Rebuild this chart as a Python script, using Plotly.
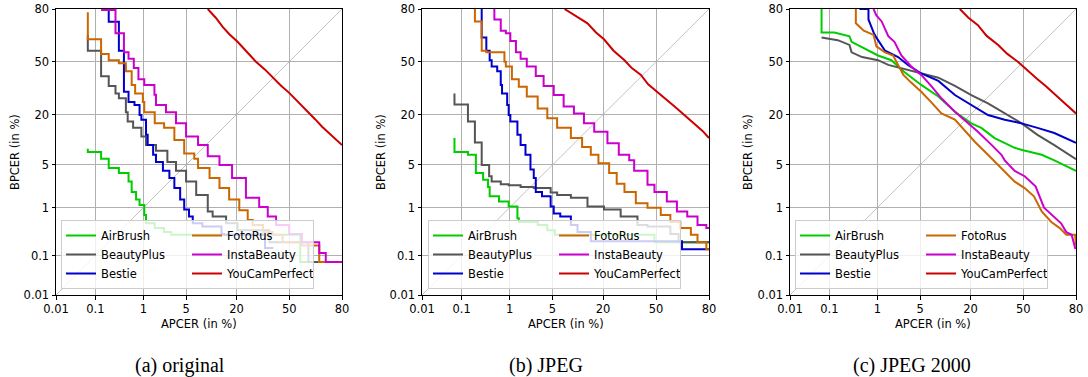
from statistics import NormalDist
import plotly.graph_objects as go

ND = NormalDist()


def probit(pcts):
    return [ND.inv_cdf(v / 100.0) for v in pcts]


# ---------------- data (all values in %) ----------------
TICK_VALUES = [0.01, 0.1, 1, 5, 20, 50, 80]
TICK_LABELS = ["0.01", "0.1", "1", "5", "20", "50", "80"]
AXIS_RANGE = [0.01, 80]
DIAGONAL = [0.01, 80]

SYSTEMS = ["AirBrush", "BeautyPlus", "Bestie", "FotoRus", "InstaBeauty", "YouCamPerfect"]
COLORS = ["#00cc00", "#555555", "#0000cc", "#cc6600", "#cc00cc", "#cc0000"]
CAPTIONS = ["(a) original", "(b) JPEG", "(c) JPEG 2000"]

# ---- (a) original ----
A_AIRBRUSH_APCER = [0.066, 0.066, 0.135, 0.135, 0.2, 0.2, 0.33, 0.52, 0.6, 0.73, 0.85, 1.04, 1.12, 1.6, 2.3, 3.0, 3.2, 57, 57, 62]
A_AIRBRUSH_BPCER = [8.3, 7.5, 7.5, 6.1, 6.1, 5.5, 4.5, 3.8, 2.8, 1.9, 1.4, 1.12, 0.73, 0.5, 0.4, 0.33, 0.29, 0.29, 0.07, 0.07]
A_BEAUTYPLUS_APCER = [0.066, 0.066, 0.135, 0.135, 0.2, 0.28, 0.33, 0.46, 0.5, 0.64, 0.92, 1.12, 1.68, 2.6, 3.55, 5.0, 6.9, 9.7, 11.1, 15.7, 20.5, 26, 37.6, 39.6, 54, 62, 62, 68]
A_BEAUTYPLUS_BPCER = [66.6, 57, 57, 41.7, 40.8, 35, 30.7, 28, 21, 17, 14.6, 11.7, 9.2, 7.8, 5.5, 4.1, 2.8, 1.68, 0.85, 0.68, 0.5, 0.36, 0.36, 0.2, 0.2, 0.2, 0.07, 0.07]
A_BESTIE_APCER = [0.17, 0.2, 0.2, 0.33, 0.33, 0.42, 0.42, 0.52, 0.68, 0.85, 0.92, 1.12, 1.2, 1.5, 1.68, 2.2, 2.8, 3.35, 4.1, 4.7, 5.5, 6.2, 8.3, 10.2, 14, 15, 18, 35, 35, 40]
A_BESTIE_BPCER = [80, 80, 73.8, 73.8, 57, 57, 41.7, 31.6, 26, 24.5, 19.8, 17.8, 12.2, 9.2, 6.9, 5.5, 4.1, 3.2, 2.2, 1.4, 0.92, 0.68, 0.5, 0.43, 0.43, 0.3, 0.29, 0.29, 0.15, 0.15]
A_FOTORUS_APCER = [0.066, 0.066, 0.135, 0.135, 0.2, 0.2, 0.33, 0.46, 0.6, 0.7, 0.98, 1.04, 1.6, 2.3, 3.35, 4.7, 6.5, 7.3, 10.2, 13.3, 16.9, 21.3, 25.4, 28, 33.8, 39.6, 45.8, 58, 64.5, 68.4, 68.4, 75.6]
A_FOTORUS_BPCER = [78.5, 64, 64, 55, 55, 53, 51, 49, 44, 35.6, 30.7, 26, 21, 16.3, 14.6, 10.6, 7.2, 6.1, 4.5, 3.2, 2.2, 1.4, 0.9, 0.58, 0.46, 0.33, 0.29, 0.2, 0.17, 0.17, 0.07, 0.07]
A_INSTABEAUTY_APCER = [0.135, 0.28, 0.28, 0.42, 0.52, 0.66, 0.81, 1.04, 1.58, 1.68, 2.47, 3.55, 5.0, 7.3, 9.7, 13.3, 18.1, 24.5, 31.6, 36.6, 41.7, 50, 58, 68.4, 72, 76.5, 80]
A_INSTABEAUTY_BPCER = [79.5, 79.5, 73, 67.5, 56, 52, 46, 39, 35.6, 30, 24.5, 21, 16.3, 11.7, 9.2, 6.6, 5.0, 3.2, 1.5, 1.03, 0.68, 0.46, 0.3, 0.2, 0.115, 0.07, 0.07]
A_YOUCAM_APCER = [9.7, 12, 14.5, 17, 20.5, 25, 29.8, 35, 39.6, 45, 50, 56, 62, 66, 70, 75, 80]
A_YOUCAM_BPCER = [80, 76, 71, 67, 62.5, 56, 50, 45, 40, 35, 31, 26, 21.3, 18, 15, 12, 9.2]

# ---- (b) JPEG ----
B_AIRBRUSH_APCER = [0.068, 0.068, 0.14, 0.14, 0.21, 0.21, 0.3, 0.38, 0.41, 0.63, 0.96, 1.38, 1.46, 3.0, 4.2, 5.4, 6.4, 49, 49, 80]
B_AIRBRUSH_BPCER = [11.2, 7.5, 7.5, 6.9, 6.9, 4.8, 3.8, 3.0, 2.3, 1.6, 1.3, 1.05, 0.63, 0.53, 0.46, 0.36, 0.29, 0.29, 0.2, 0.2]
B_BEAUTYPLUS_APCER = [0.068, 0.068, 0.14, 0.14, 0.2, 0.2, 0.28, 0.28, 0.4, 0.45, 0.68, 0.96, 1.57, 2.6, 4.7, 5.8, 8.8, 13.8, 20.4, 28.7, 38.4, 44.6, 59, 60, 64, 64, 80]
B_BEAUTYPLUS_BPCER = [30.7, 24.8, 24.8, 17, 17, 9.9, 9.9, 6.9, 5.0, 3.4, 2.8, 2.55, 2.45, 2.3, 2.2, 1.85, 1.68, 1.5, 1.05, 0.92, 0.68, 0.46, 0.43, 0.3, 0.3, 0.2, 0.2]
B_BESTIE_APCER = [0.28, 0.28, 0.35, 0.41, 0.45, 0.58, 0.68, 0.72, 0.9, 0.96, 1.03, 1.38, 1.57, 1.9, 2.3, 2.6, 2.8, 3.5, 4.7, 5.2, 6.4, 8.8, 10.6, 11.6, 15, 15, 66, 66, 80]
B_BESTIE_BPCER = [80, 76, 65, 57, 51, 47, 44, 35.6, 30.7, 24.5, 19.8, 17, 12.2, 9.2, 6.9, 4.3, 3.2, 1.9, 1.6, 1.05, 0.78, 0.68, 0.46, 0.33, 0.33, 0.21, 0.21, 0.14, 0.14]
B_FOTORUS_APCER = [0.2, 0.2, 0.28, 0.28, 0.35, 0.8, 0.85, 1.1, 1.46, 2.0, 3.0, 4.2, 5.8, 8.8, 12, 15, 18, 22.8, 26.6, 30.8, 37.4, 44.6, 53, 59, 65, 71, 74.5, 75.4, 78.8, 78.8, 80]
B_FOTORUS_BPCER = [80, 74, 74, 64, 57, 56, 50, 47, 39, 34.5, 29, 22.8, 18.4, 14.6, 11.2, 8.7, 6.9, 5.3, 3.8, 2.6, 1.9, 1.2, 1.0, 0.73, 0.53, 0.4, 0.29, 0.2, 0.2, 0.14, 0.14]
B_INSTABEAUTY_APCER = [0.51, 0.68, 0.85, 1.03, 1.3, 1.57, 2.0, 2.8, 3.7, 5.2, 7.1, 9.6, 12.6, 16.3, 22, 27.7, 33.5, 36.4, 44.6, 49, 56.8, 63, 69, 74.5, 78.8, 80]
B_INSTABEAUTY_BPCER = [80, 75, 69, 67.5, 63, 56, 52, 47, 41, 35, 29.8, 23.8, 20.5, 16.3, 13.2, 9.7, 6.9, 5.8, 4.1, 2.5, 1.9, 1.3, 0.85, 0.68, 0.46, 0.4]
B_YOUCAM_APCER = [7.3, 10, 13.8, 17, 20.4, 25, 30.8, 35, 40.5, 45, 50.9, 57, 63, 68, 72.7, 77, 80]
B_YOUCAM_BPCER = [80, 77, 73, 68, 64, 57, 51, 46, 41.7, 36, 31.6, 27, 22.8, 19.5, 16.3, 13.5, 11.2]

# ---- (c) JPEG 2000 ----
C_AIRBRUSH_APCER = [0.065, 0.065, 0.13, 0.28, 0.31, 0.68, 1.03, 1.78, 2.8, 5.2, 8.8, 13.8, 20.4, 25.2, 32.4, 44.6, 50, 61.6, 69, 80]
C_AIRBRUSH_BPCER = [80, 68, 68, 65.8, 62.5, 57, 54, 51, 44, 35.6, 29, 21.3, 16.3, 14.6, 11.2, 8.5, 7.9, 6.9, 5.8, 4.1]
C_BEAUTYPLUS_APCER = [0.065, 0.155, 0.28, 0.31, 0.51, 1.03, 1.57, 2.6, 5.2, 8.8, 13.8, 20.4, 28.7, 38.4, 49, 59, 69, 80]
C_BEAUTYPLUS_BPCER = [65, 63.5, 60.6, 56, 53, 51, 48, 46, 42.6, 40, 35, 29.8, 25.4, 20.5, 16.3, 12.2, 9.2, 6.0]
C_BESTIE_APCER = [0.45, 0.68, 0.68, 0.85, 0.96, 1.38, 2.3, 3.3, 5.2, 8.8, 13.8, 20.4, 28.7, 38.4, 49, 59, 69, 80]
C_BESTIE_BPCER = [80, 80, 75, 68, 65, 57, 53, 48, 42.6, 38, 29.8, 24.5, 19.8, 17.8, 16.3, 14.6, 12.8, 9.8]
C_FOTORUS_APCER = [0.38, 0.38, 0.55, 0.85, 0.96, 1.38, 1.9, 2.3, 2.8, 3.7, 5.2, 7.1, 9.6, 13.8, 17.4, 22, 28.7, 30.8, 36.4, 44.6, 50.9, 56.8, 61.6, 67.3, 72, 75.4, 79.6, 80]
C_FOTORUS_BPCER = [80, 73, 69, 66.6, 59.7, 56, 54, 48, 41.7, 37, 31.6, 26, 20.5, 17.8, 13.8, 10.1, 6.9, 6.1, 4.5, 2.8, 2.2, 1.6, 0.85, 0.53, 0.4, 0.29, 0.29, 0.17]
C_INSTABEAUTY_APCER = [0.85, 0.96, 1.2, 1.57, 2.0, 2.6, 3.7, 5.2, 7.1, 9.6, 13.8, 17.4, 23.5, 30.8, 36.4, 38.4, 44.6, 50.9, 57.8, 63, 69, 72.7, 75.4, 78, 79.6, 80]
C_INSTABEAUTY_BPCER = [80, 77, 74, 65.8, 62.5, 54, 47, 41.7, 35, 28, 21.3, 17.8, 13.2, 9.2, 6.9, 5.8, 4.1, 3.4, 2.35, 1.0, 0.68, 0.5, 0.33, 0.29, 0.15, 0.15]
C_YOUCAM_APCER = [15.6, 19, 23.5, 28, 34.5, 40, 46.6, 53, 59, 64, 69, 75, 80]
C_YOUCAM_BPCER = [80, 76, 72, 66, 60.6, 55, 50, 44, 39, 35, 30.7, 25, 20.5]

PANELS = [
    [(A_AIRBRUSH_APCER, A_AIRBRUSH_BPCER), (A_BEAUTYPLUS_APCER, A_BEAUTYPLUS_BPCER),
     (A_BESTIE_APCER, A_BESTIE_BPCER), (A_FOTORUS_APCER, A_FOTORUS_BPCER),
     (A_INSTABEAUTY_APCER, A_INSTABEAUTY_BPCER), (A_YOUCAM_APCER, A_YOUCAM_BPCER)],
    [(B_AIRBRUSH_APCER, B_AIRBRUSH_BPCER), (B_BEAUTYPLUS_APCER, B_BEAUTYPLUS_BPCER),
     (B_BESTIE_APCER, B_BESTIE_BPCER), (B_FOTORUS_APCER, B_FOTORUS_BPCER),
     (B_INSTABEAUTY_APCER, B_INSTABEAUTY_BPCER), (B_YOUCAM_APCER, B_YOUCAM_BPCER)],
    [(C_AIRBRUSH_APCER, C_AIRBRUSH_BPCER), (C_BEAUTYPLUS_APCER, C_BEAUTYPLUS_BPCER),
     (C_BESTIE_APCER, C_BESTIE_BPCER), (C_FOTORUS_APCER, C_FOTORUS_BPCER),
     (C_INSTABEAUTY_APCER, C_INSTABEAUTY_BPCER), (C_YOUCAM_APCER, C_YOUCAM_BPCER)],
]
STEPPED = [True, True, False]

# ---------------- layout geometry ----------------
W, H = 1088, 377
X_DOMAINS = [(56, 342), (422, 709), (790, 1076)]
Y_TOP, Y_BOT = 9, 295
YLABEL_X = [15, 381, 748]
LEGEND_LEFT = [61, 428, 795]
LEGEND_BOTTOM = 289
CAPTION_X = [180, 546, 912]

FONT = "DejaVu Sans"
fig = go.Figure()

for p, series in enumerate(PANELS):
    sfx = "" if p == 0 else str(p + 1)
    xa, ya = "x" + sfx, "y" + sfx
    leg = "legend" + sfx
    fig.add_trace(go.Scatter(
        x=probit(DIAGONAL), y=probit(DIAGONAL), mode="lines",
        line=dict(color="#b4b4b4", width=0.8), showlegend=False,
        hoverinfo="skip", xaxis=xa, yaxis=ya))
    for i, (name, color) in enumerate(zip(SYSTEMS, COLORS)):
        xs, ys = series[i]
        shape = "vh" if (STEPPED[p] and name != "YouCamPerfect") else "linear"
        fig.add_trace(go.Scatter(
            x=probit(xs), y=probit(ys), mode="lines", name=name,
            line=dict(color=color, width=2, shape=shape),
            legendgroup="col1" if i < 3 else "col2",
            legend=leg, xaxis=xa, yaxis=ya))

    axis_common = dict(
        range=probit(AXIS_RANGE), tickvals=probit(TICK_VALUES), ticktext=TICK_LABELS,
        showgrid=True, gridcolor="#b0b0b0", gridwidth=1,
        showline=True, linecolor="black", linewidth=1, mirror=True,
        ticks="outside", ticklen=3.5, tickcolor="black", tickwidth=1,
        tickfont=dict(family=FONT, size=11.5, color="black"),
        zeroline=False, fixedrange=True, automargin=False,
    )
    x0, x1 = X_DOMAINS[p]
    fig.update_layout(**{
        "xaxis" + sfx: dict(axis_common, domain=[x0 / W, x1 / W], anchor=ya),
        "yaxis" + sfx: dict(axis_common, domain=[(H - Y_BOT) / H, (H - Y_TOP) / H], anchor=xa),
        leg: dict(
            x=LEGEND_LEFT[p] / W, y=(H - LEGEND_BOTTOM) / H, xanchor="left", yanchor="bottom",
            orientation="h", traceorder="grouped", entrywidth=81, tracegroupgap=0,
            bgcolor="rgba(255,255,255,0.8)", bordercolor="#cccccc", borderwidth=1,
            font=dict(family=FONT, size=11.5, color="black"), itemwidth=30,
        ),
    })

    cx = (x0 + x1) / 2
    fig.add_annotation(text="APCER (in %)", x=cx / W, y=(H - 324) / H, xref="paper", yref="paper",
                       xanchor="center", yanchor="middle", showarrow=False,
                       font=dict(family=FONT, size=11.5, color="black"))
    fig.add_annotation(text="BPCER (in %)", x=YLABEL_X[p] / W, y=(H - (Y_TOP + Y_BOT) / 2) / H,
                       xref="paper", yref="paper", xanchor="center", yanchor="middle",
                       textangle=-90, showarrow=False,
                       font=dict(family=FONT, size=11.5, color="black"))
    fig.add_annotation(text=CAPTIONS[p], x=CAPTION_X[p] / W, y=(H - 365) / H, xref="paper", yref="paper",
                       xanchor="center", yanchor="middle", showarrow=False,
                       font=dict(family="Liberation Serif", size=20, color="black"))

fig.update_layout(
    width=W, height=H, margin=dict(l=0, r=0, t=0, b=0, autoexpand=False),
    paper_bgcolor="white", plot_bgcolor="white",
)

fig.write_html(
    "out.html",
    config={"displayModeBar": False, "staticPlot": False},
    post_script="document.body.style.margin='0';document.body.style.padding='0';"
                "document.body.style.overflow='hidden';",
)
